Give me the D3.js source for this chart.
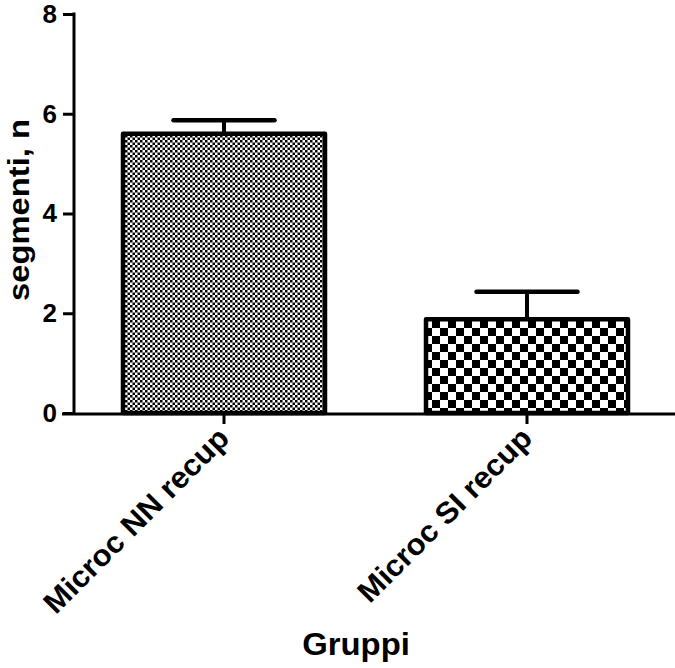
<!DOCTYPE html>
<html lang="en">
<head>
<meta charset="utf-8">
<title>segmenti per gruppo</title>
<script src="https://d3js.org/d3.v7.min.js"></script>
<style>
  body{margin:0;background:#fff;font-family:"Liberation Sans",Arial,sans-serif;}
  .axis text{font-family:"Liberation Sans",Arial,sans-serif;font-weight:bold;fill:#000;}
</style>
</head>
<body>
<div id="chart"></div>
<script>
// data
var groups = ["Microc NN recup", "Microc SI recup"]
var means = [5.6, 1.88]
var errs = [0.27, 0.55]   // upper error (SEM)
var yTicks = [0, 2, 4, 6, 8]

var w = 675, h = 668

var svg = d3.select("#chart").append("svg")
    .attr("width", w).attr("height", h)

// checker patterns: fine for group 1, coarse for group 2
var defs = svg.append("defs")
function checker(id, cell){
    var p = defs.append("pattern").attr("id", id)
        .attr("patternUnits", "userSpaceOnUse")
        .attr("width", cell*2).attr("height", cell*2)
    p.append("rect").attr("width", cell*2).attr("height", cell*2).attr("fill", "#fff")
    p.append("rect").attr("width", cell).attr("height", cell).attr("fill", "#000")
    p.append("rect").attr("x", cell).attr("y", cell).attr("width", cell).attr("height", cell).attr("fill", "#000")
}
checker("pat0", 2.5)
checker("pat1", 8)

var yScale = d3.scaleLinear().domain([0, 8]).range([413, 14])
var xScale = d3.scaleBand().domain(groups).range([72.5, 678.5])
    .paddingInner(1/3).paddingOuter(1/6)

// y axis
var yAxis = d3.axisLeft(yScale).tickValues(yTicks).tickSize(11).tickPadding(6)
var gy = svg.append("g").attr("class", "axis")
    .attr("transform", "translate(74,0)")
    .call(yAxis)
gy.select(".domain").remove()
gy.append("line").attr("x1", 0).attr("x2", 0)
    .attr("y1", yScale(8) - 1.5).attr("y2", yScale(0) + 1.5)
    .attr("stroke", "#000").attr("stroke-width", 3)
gy.selectAll(".tick line").attr("stroke-width", 3)
gy.selectAll(".tick text").attr("font-size", 26)

// bars
svg.selectAll("rect.bar")
    .data(groups)
    .enter()
    .append("rect")
    .attr("class", "bar")
    .attr("x", function(d){ return xScale(d) })
    .attr("y", function(d, i){ return yScale(means[i]) })
    .attr("width", xScale.bandwidth())
    .attr("height", function(d, i){ return yScale(0) - yScale(means[i]) })
    .attr("fill", function(d, i){ return "url(#pat" + i + ")" })
    .attr("stroke", "#000")
    .attr("stroke-width", 4.5)
    .attr("stroke-linejoin", "round")

// error bars (upper only)
var eb = svg.selectAll("g.err").data(groups).enter().append("g")
eb.append("line")
    .attr("x1", function(d){ return xScale(d) + xScale.bandwidth()/2 })
    .attr("x2", function(d){ return xScale(d) + xScale.bandwidth()/2 })
    .attr("y1", function(d, i){ return yScale(means[i]) })
    .attr("y2", function(d, i){ return yScale(means[i] + errs[i]) })
    .attr("stroke", "#000").attr("stroke-width", 4)
eb.append("line")
    .attr("x1", function(d){ return xScale(d) + xScale.bandwidth()/4 })
    .attr("x2", function(d){ return xScale(d) + xScale.bandwidth()*3/4 })
    .attr("y1", function(d, i){ return yScale(means[i] + errs[i]) })
    .attr("y2", function(d, i){ return yScale(means[i] + errs[i]) })
    .attr("stroke", "#000").attr("stroke-width", 4.5)
    .attr("stroke-linecap", "round")

// x axis
var xAxis = d3.axisBottom(xScale).tickSize(10).tickSizeOuter(0)
var gx = svg.append("g").attr("class", "axis")
    .attr("transform", "translate(0,414)")
    .call(xAxis)
gx.select(".domain").remove()
gx.append("line").attr("x1", 62).attr("x2", 675).attr("y1", 0).attr("y2", 0)
    .attr("stroke", "#000").attr("stroke-width", 3)
gx.selectAll(".tick line").attr("stroke-width", 3)
gx.selectAll(".tick text")
    .attr("font-size", 30)
    .attr("text-anchor", "end")
    .attr("dy", null)
    .attr("y", 0)
    .attr("transform", "translate(7,26) rotate(-45) scale(1.04,1)")

// axis titles
svg.append("text")
    .attr("transform", "translate(29,210) rotate(-90) scale(1.13,1)")
    .attr("text-anchor", "middle")
    .attr("font-size", 29).attr("font-weight", "bold")
    .text("segmenti, n")

svg.append("text")
    .attr("transform", "translate(356,655) scale(1.06,1)")
    .attr("text-anchor", "middle")
    .attr("font-size", 31).attr("font-weight", "bold")
    .text("Gruppi")
</script>
</body>
</html>
